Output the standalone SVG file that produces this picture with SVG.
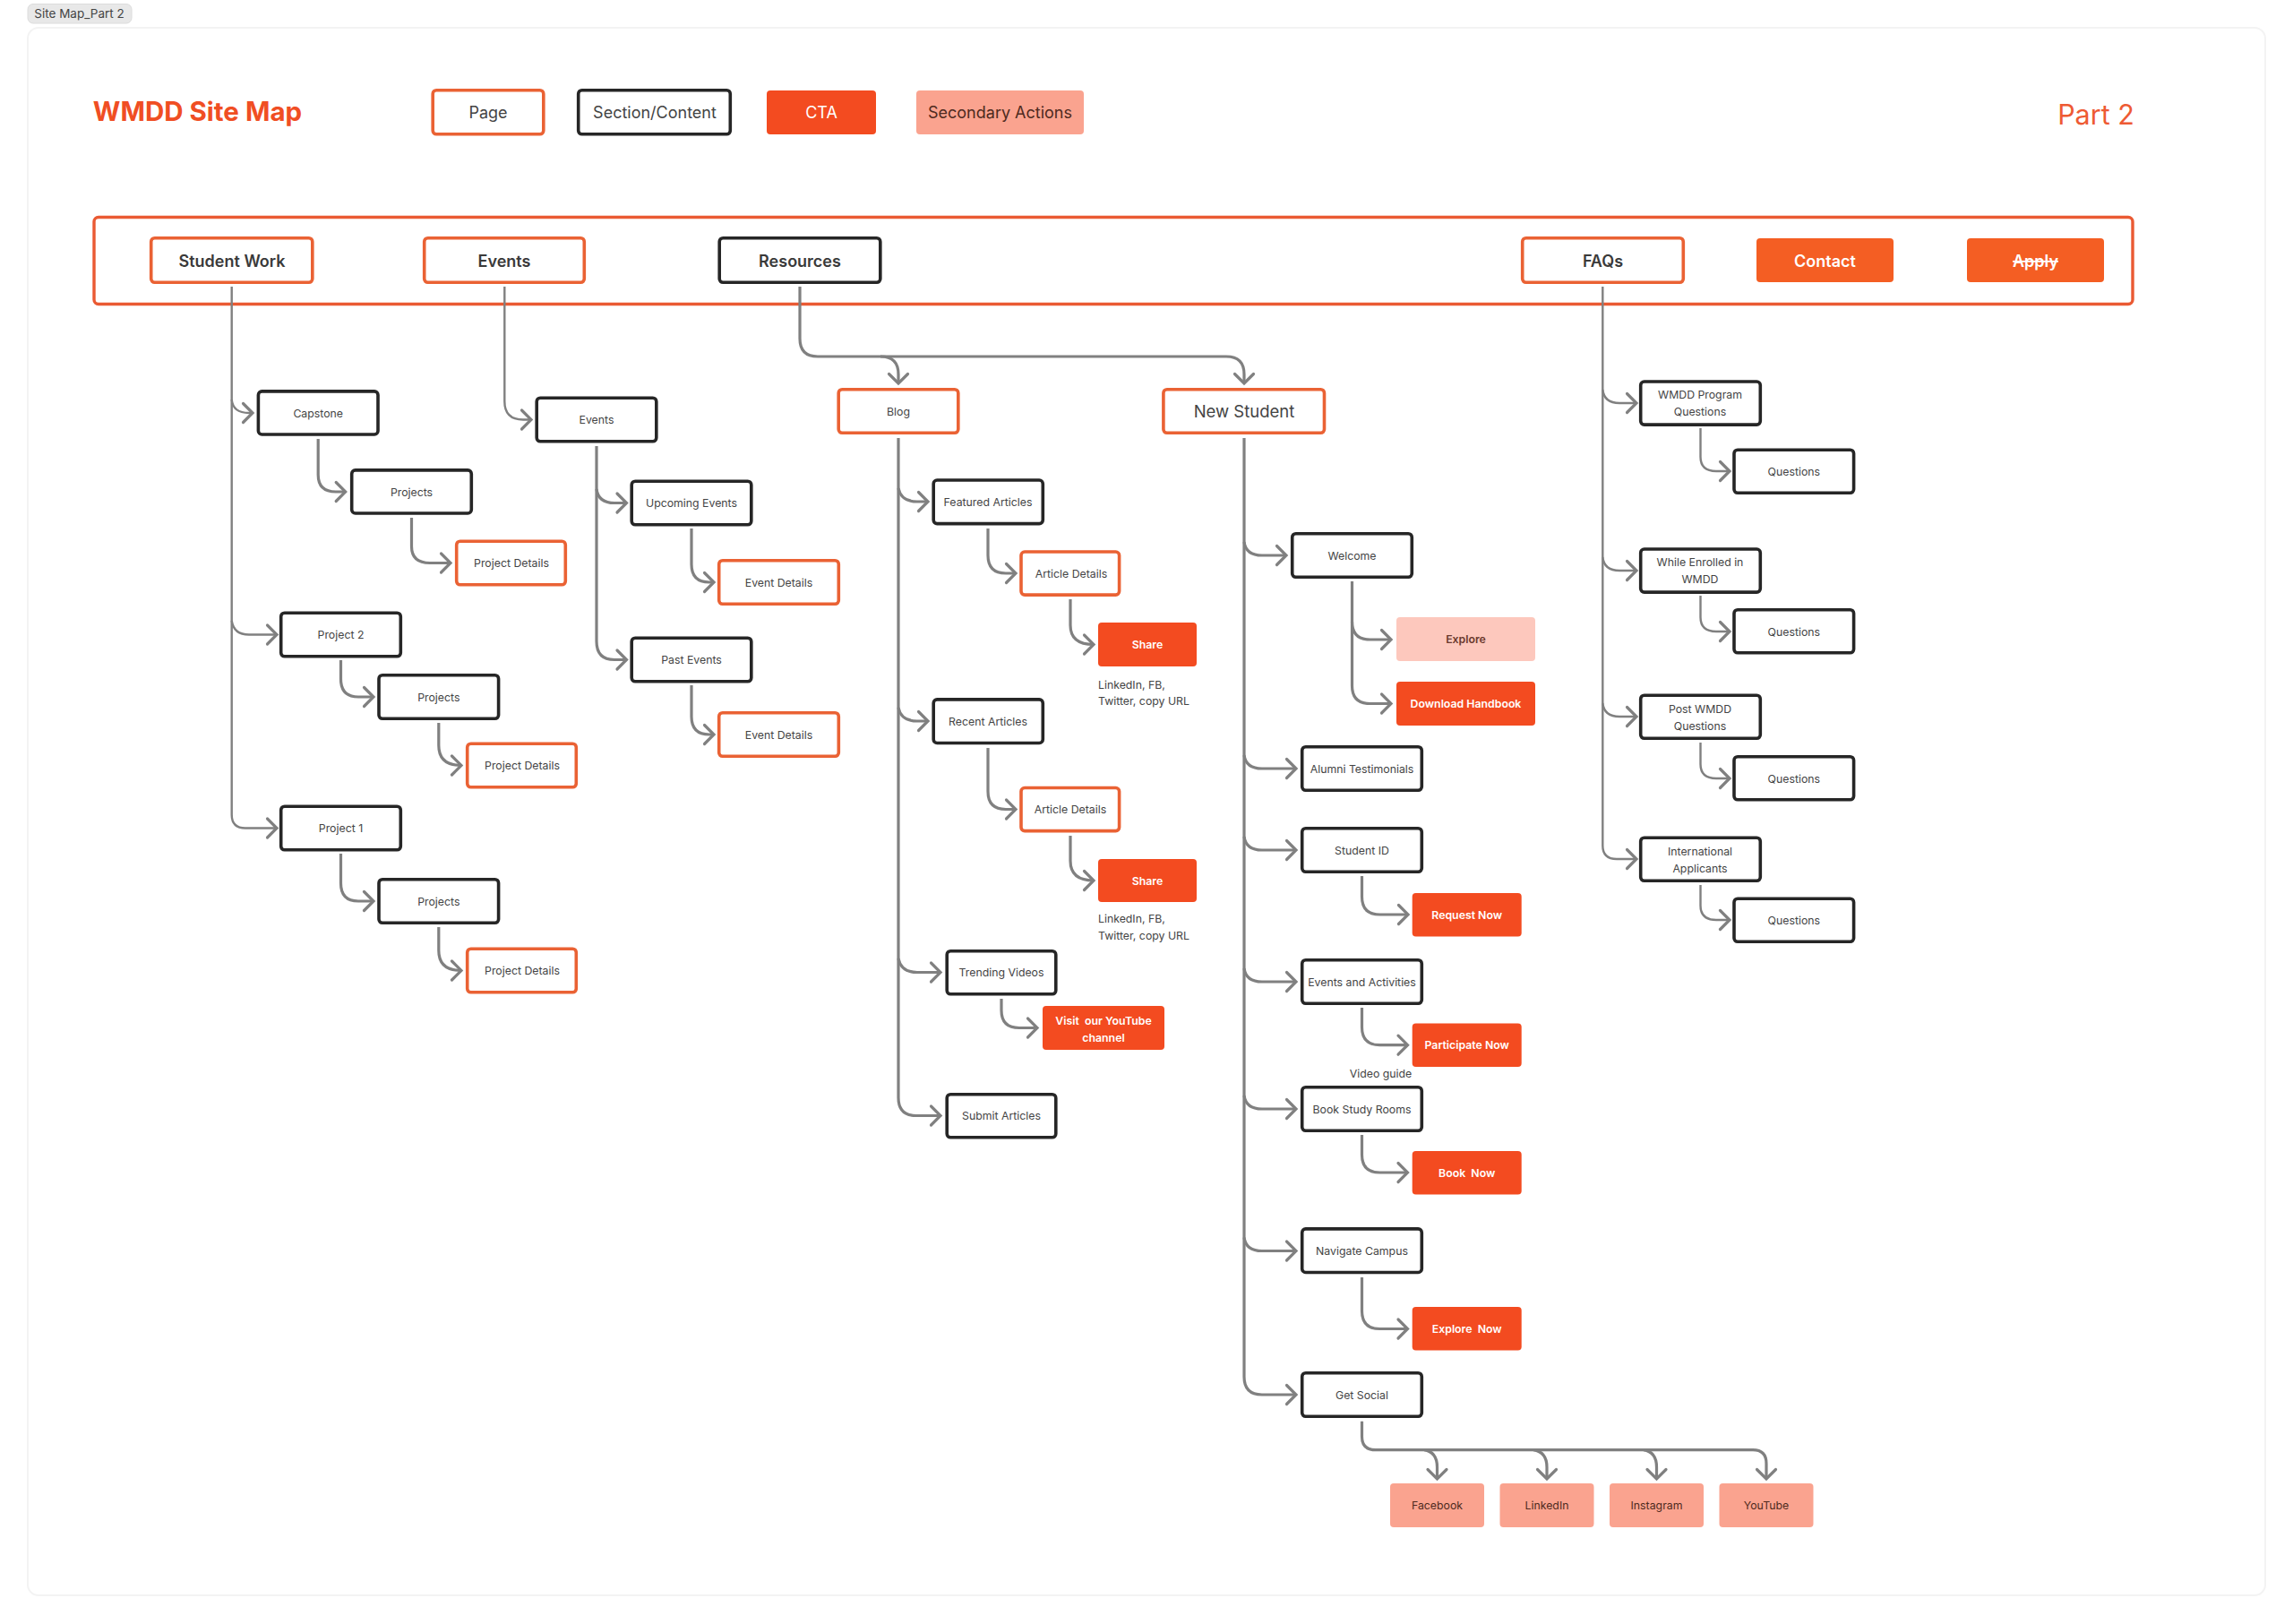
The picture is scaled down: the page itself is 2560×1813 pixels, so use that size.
<svg xmlns="http://www.w3.org/2000/svg" width="2560" height="1813" viewBox="0 0 2560 1813">
<style>
text{font-family:Inter,"Noto Sans","Liberation Sans",sans-serif;text-anchor:middle;font-size:12.300px;fill:#444;white-space:pre}
.b{fill:#fff;stroke:#262626;stroke-width:3.6}
.p{fill:#fff;stroke:#ea6234;stroke-width:3.6}
.c{fill:#f34b20;stroke:none}
.n{fill:#f45e23;stroke:none}
.s{fill:#faa38f;stroke:none}
.k{fill:#fdc8bd;stroke:none}
.w{fill:#fff;font-weight:600}
.d{fill:#4e2a20}
.h{font-size:18px;font-weight:600;fill:#3a3a3a}
.l{font-size:18px}
.con path{fill:none;stroke:#808080;stroke-width:3.2;marker-end:url(#a)}
.con .t{stroke-width:2.4}
</style>
<defs>
<marker id="a" markerUnits="userSpaceOnUse" markerWidth="30" markerHeight="30" refX="14" refY="14" orient="auto" viewBox="0 0 30 30"><path d="M3.5 3.5L14 14L3.5 24.5" fill="none" stroke="#808080" stroke-width="3.2" stroke-linecap="round"/></marker>
</defs>
<rect x="31" y="31" width="2498" height="1750" rx="12" fill="#fff" stroke="#f3f3f3" stroke-width="2"/>
<g id="tag"><rect x="31" y="4.500" width="116" height="21.500" rx="6" fill="#e8e8e8" stroke="#dcdcdc"/><text x="88.500" y="20" style="font-size:13.500px" fill="#222">Site Map_Part 2</text></g>
<g id="title"><text x="220.500" y="135" style="font-size:29.500px;font-weight:700;fill:#f04e23">WMDD Site Map</text></g>
<g id="part2"><text x="2340" y="138.500" style="font-size:30.500px;fill:#ee5a33">Part 2</text></g>
<g id="legend-page"><rect class="p" x="483.200" y="100.700" width="123.600" height="49.100" rx="4"/><text class="l" x="545" y="132">Page</text></g>
<g id="legend-section"><rect class="b" x="645.700" y="100.700" width="169.600" height="49.100" rx="4"/><text class="l" x="731" y="132">Section/Content</text></g>
<g id="legend-cta"><rect class="c" x="856" y="101" width="122" height="49" rx="4"/><text class="l" x="917" y="132" style="fill:#fff">CTA</text></g>
<g id="legend-secondary"><rect class="s" x="1023" y="101" width="187" height="49" rx="4"/><text class="l d" x="1116.500" y="132">Secondary Actions</text></g>
<g id="nav"><rect x="105" y="242.500" width="2276" height="97" rx="5" fill="none" stroke="#ea5a33" stroke-width="3.400"/></g>
<g id="nav-student-work"><rect class="p" x="168.700" y="265.700" width="180.100" height="49.600" rx="4"/><text class="h" x="259" y="297.500">Student Work</text></g>
<g id="nav-events"><rect class="p" x="473.700" y="265.700" width="178.600" height="49.600" rx="4"/><text class="h" x="563" y="297.500">Events</text></g>
<g id="nav-resources"><rect class="b" x="803.200" y="265.700" width="179.600" height="49.600" rx="4"/><text class="h" x="893" y="297.500">Resources</text></g>
<g id="nav-faqs"><rect class="p" x="1699.700" y="265.700" width="179.600" height="49.600" rx="4"/><text class="h" x="1789.500" y="297.500">FAQs</text></g>
<g id="nav-contact"><rect class="n" x="1961" y="266" width="153" height="49" rx="4"/><text class="h w" x="2037.500" y="297.500" style="fill:#fff">Contact</text></g>
<g id="nav-apply"><rect class="n" x="2196" y="266" width="153" height="49" rx="4"/><text class="h w" x="2272.500" y="297.500" style="fill:#fff;text-decoration:line-through">Apply</text></g>

<g id="connectors" class="con">
<path class="t" d="M258.700 320V909.500Q258.700 924.500 274 924.500H309"/>
<path class="t" d="M258.700 446Q260 461 278 461H282"/>
<path class="t" d="M258.700 693Q261 708.500 278 708.500H309"/>
<path d="M355.200 490V530Q355.200 549 375 549H385.700"/>
<path d="M459.500 578V610Q459.500 628.500 480 628.500H503"/>
<path d="M380.500 737V758Q380.500 778 400 778H417"/>
<path d="M489.800 807V832Q489.800 854.500 515 854.500"/>
<path d="M380.500 953V986Q380.500 1006 400 1006H417"/>
<path d="M489.800 1035V1061Q489.800 1083.500 515 1083.500"/>
<path class="t" d="M563.300 320V448Q563.300 468.500 584 468.500H593"/>
<path d="M666 498V716Q666 736.500 686 736.500H699.500"/>
<path d="M666 546Q668 561.500 686 561.500H699.500"/>
<path d="M772 590V630Q772 650 792 650H797"/>
<path d="M772 765V800Q772 820 792 820H797"/>
<path d="M893 320V378Q893 398 913 398H1369Q1389 398 1389 418V428"/>
<path d="M983 398Q1003 398 1003 418V428"/>
<path d="M1003 489V1225.500Q1003 1245.500 1023 1245.500H1050"/>
<path d="M1003 545Q1006 560 1024 560H1036"/>
<path d="M1003 790Q1006 805 1024 805H1036"/>
<path d="M1003 1070Q1006 1085.500 1024 1085.500H1050"/>
<path d="M1103 590V620Q1103 640 1123 640H1134"/>
<path d="M1195 669V698Q1195 719.500 1221 719.500"/>
<path d="M1103 835V883.500Q1103 903.500 1123 903.500H1134"/>
<path d="M1195 933V961Q1195 983 1221 983"/>
<path d="M1118 1115V1128Q1118 1147.500 1138 1147.500H1158"/>
<path d="M1389 489V1537Q1389 1557 1409 1557H1447"/>
<path d="M1389 605Q1391 620 1409 620H1436"/>
<path d="M1389 843Q1391 858 1409 858H1447"/>
<path d="M1389 934Q1391 949 1409 949H1447"/>
<path d="M1389 1081Q1391 1096 1409 1096H1447"/>
<path d="M1389 1223Q1391 1238 1409 1238H1447"/>
<path d="M1389 1381.500Q1391 1396.500 1409 1396.500H1447"/>
<path d="M1509.500 649V765.500Q1509.500 785.500 1529.500 785.500H1553"/>
<path d="M1509.500 694Q1509.500 714 1529.500 714H1553"/>
<path d="M1520.500 978V1001Q1520.500 1021 1540.500 1021H1572"/>
<path d="M1520.500 1125V1146.700Q1520.500 1166.700 1540.500 1166.700H1571.500"/>
<path d="M1520.500 1267V1289Q1520.500 1309 1540.500 1309H1571.500"/>
<path d="M1520.500 1426V1463.500Q1520.500 1483.500 1540.500 1483.500H1571.500"/>
<path d="M1520.500 1586.700V1603.700Q1520.500 1618.700 1536 1618.700H1957Q1972 1618.700 1972 1634V1651"/>
<path d="M1590 1618.700Q1604.500 1621 1604.500 1638V1651"/>
<path d="M1712 1618.700Q1727 1621 1727 1638V1651"/>
<path d="M1835 1618.700Q1849.500 1621 1849.500 1638V1651"/>
<path class="t" d="M1789.300 320V944Q1789.300 959 1805 959H1827"/>
<path class="t" d="M1789.300 435Q1791 450 1808 450H1827"/>
<path class="t" d="M1789.300 622Q1791 637 1808 637H1827"/>
<path class="t" d="M1789.300 785Q1791 800 1808 800H1827"/>
<path class="t" d="M1898.500 478V510Q1898.500 526 1916 526H1931"/>
<path class="t" d="M1898.500 665V689Q1898.500 705 1916 705H1931"/>
<path class="t" d="M1898.500 829V853Q1898.500 869 1916 869H1931"/>
<path class="t" d="M1898.500 988V1011Q1898.500 1027 1916 1027H1931"/>
</g>

<g id="capstone"><rect class="b" x="288.400" y="436.900" width="133.600" height="48.100" rx="4"/><text x="355.200" y="465.500">Capstone</text></g>
<g id="projects-a"><rect class="b" x="392.700" y="524.900" width="133.600" height="48.100" rx="4"/><text x="459.500" y="553.500">Projects</text></g>
<g id="project-details-a"><rect class="p" x="509.700" y="604.200" width="121.600" height="48.600" rx="4"/><text x="571" y="633">Project Details</text></g>
<g id="project-2"><rect class="b" x="313.700" y="684.200" width="133.600" height="48.600" rx="4"/><text x="380.500" y="713">Project 2</text></g>
<g id="projects-b"><rect class="b" x="423" y="753.700" width="133.600" height="48.600" rx="4"/><text x="489.800" y="782.500">Projects</text></g>
<g id="project-details-b"><rect class="p" x="521.700" y="830.200" width="121.600" height="48.600" rx="4"/><text x="583" y="859">Project Details</text></g>
<g id="project-1"><rect class="b" x="313.700" y="900.200" width="133.600" height="48.600" rx="4"/><text x="380.500" y="929">Project 1</text></g>
<g id="projects-c"><rect class="b" x="423" y="981.700" width="133.600" height="48.600" rx="4"/><text x="489.800" y="1010.500">Projects</text></g>
<g id="project-details-c"><rect class="p" x="521.700" y="1059.200" width="121.600" height="48.600" rx="4"/><text x="583" y="1088">Project Details</text></g>

<g id="events"><rect class="b" x="599.200" y="444.200" width="133.600" height="48.600" rx="4"/><text x="666" y="473">Events</text></g>
<g id="upcoming-events"><rect class="b" x="705.200" y="537.200" width="133.600" height="48.600" rx="4"/><text x="772" y="566">Upcoming Events</text></g>
<g id="event-details-a"><rect class="p" x="802.700" y="625.700" width="133.600" height="48.600" rx="4"/><text x="869.500" y="654.500">Event Details</text></g>
<g id="past-events"><rect class="b" x="705.200" y="712.200" width="133.600" height="48.600" rx="4"/><text x="772" y="741">Past Events</text></g>
<g id="event-details-b"><rect class="p" x="802.700" y="795.700" width="133.600" height="48.600" rx="4"/><text x="869.500" y="824.500">Event Details</text></g>

<g id="blog"><rect class="p" x="936.200" y="434.700" width="133.600" height="48.600" rx="4"/><text x="1003" y="463.500">Blog</text></g>
<g id="featured-articles"><rect class="b" x="1042.200" y="536" width="122.100" height="48.600" rx="4"/><text x="1103" y="564.500">Featured Articles</text></g>
<g id="article-details-a"><rect class="p" x="1140" y="616" width="109.600" height="48.100" rx="4"/><text x="1196" y="644.500">Article Details</text></g>
<g id="share-a"><rect class="c" x="1226" y="695" width="110" height="49" rx="4"/><text class="w" x="1281" y="724">Share</text></g>
<g id="share-a-note"><text x="1226" y="768.500" style="text-anchor:start">LinkedIn, FB,</text><text x="1226" y="787" style="text-anchor:start">Twitter, copy URL</text></g>
<g id="recent-articles"><rect class="b" x="1042.200" y="780.900" width="122.100" height="48.600" rx="4"/><text x="1103" y="809.500">Recent Articles</text></g>
<g id="article-details-b"><rect class="p" x="1140" y="879.500" width="109.600" height="48.100" rx="4"/><text x="1195" y="908">Article Details</text></g>
<g id="share-b"><rect class="c" x="1226" y="959" width="110" height="48" rx="4"/><text class="w" x="1281" y="987.500">Share</text></g>
<g id="share-b-note"><text x="1226" y="1030" style="text-anchor:start">LinkedIn, FB,</text><text x="1226" y="1049" style="text-anchor:start">Twitter, copy URL</text></g>
<g id="trending-videos"><rect class="b" x="1057.200" y="1061.700" width="121.600" height="48.100" rx="4"/><text x="1118" y="1090">Trending Videos</text></g>
<g id="youtube-channel"><rect class="c" x="1164" y="1123" width="136" height="49" rx="4"/><text class="w" x="1232" y="1144">Visit  our YouTube</text><text class="w" x="1232" y="1162.500">channel</text></g>
<g id="submit-articles"><rect class="b" x="1057.200" y="1221.700" width="121.600" height="48.100" rx="4"/><text x="1118" y="1250">Submit Articles</text></g>

<g id="new-student"><rect class="p" x="1298.900" y="434.700" width="179.600" height="48.600" rx="4"/><text x="1389" y="466" style="font-size:18.500px">New Student</text></g>
<g id="welcome"><rect class="b" x="1442.700" y="595.700" width="133.600" height="48.600" rx="4"/><text x="1509.500" y="624.500">Welcome</text></g>
<g id="explore"><rect class="k" x="1559" y="689" width="155" height="49" rx="4"/><text x="1636.500" y="718" style="font-weight:600;fill:#6b3a2e">Explore</text></g>
<g id="download-handbook"><rect class="c" x="1559" y="761" width="155" height="49" rx="4"/><text class="w" x="1636.500" y="790">Download Handbook</text></g>
<g id="alumni"><rect class="b" x="1453.700" y="833.700" width="133.600" height="48.600" rx="4"/><text x="1520.500" y="862.500">Alumni Testimonials</text></g>
<g id="student-id"><rect class="b" x="1453.700" y="924.700" width="133.600" height="48.600" rx="4"/><text x="1520.500" y="953.500">Student ID</text></g>
<g id="request-now"><rect class="c" x="1576.700" y="997" width="122" height="48.500" rx="4"/><text class="w" x="1637.700" y="1025.500">Request Now</text></g>
<g id="events-activities"><rect class="b" x="1453.700" y="1071.700" width="133.600" height="48.600" rx="4"/><text x="1520.500" y="1100.500">Events and Activities</text></g>
<g id="participate-now"><rect class="c" x="1576.700" y="1142.500" width="122" height="48.500" rx="4"/><text class="w" x="1637.700" y="1171">Participate Now</text></g>
<g id="video-guide"><text x="1541.500" y="1202.500">Video guide</text></g>
<g id="book-study"><rect class="b" x="1453.700" y="1213.700" width="133.600" height="48.600" rx="4"/><text x="1520.500" y="1242.500">Book Study Rooms</text></g>
<g id="book-now"><rect class="c" x="1576.700" y="1285" width="122" height="48.500" rx="4"/><text class="w" x="1637.700" y="1313.500">Book  Now</text></g>
<g id="navigate-campus"><rect class="b" x="1453.700" y="1371.900" width="133.600" height="48.600" rx="4"/><text x="1520.500" y="1401">Navigate Campus</text></g>
<g id="explore-now"><rect class="c" x="1576.700" y="1459" width="122" height="48.500" rx="4"/><text class="w" x="1637.700" y="1487.500">Explore  Now</text></g>
<g id="get-social"><rect class="b" x="1453.700" y="1532.700" width="133.600" height="48.600" rx="4"/><text x="1520.500" y="1561.500">Get Social</text></g>
<g id="facebook"><rect class="s" x="1552" y="1656" width="105" height="49" rx="4"/><text class="d" x="1604.500" y="1684.500">Facebook</text></g>
<g id="linkedin"><rect class="s" x="1674.500" y="1656" width="105" height="49" rx="4"/><text class="d" x="1727" y="1684.500">LinkedIn</text></g>
<g id="instagram"><rect class="s" x="1797" y="1656" width="105" height="49" rx="4"/><text class="d" x="1849.500" y="1684.500">Instagram</text></g>
<g id="youtube"><rect class="s" x="1919.500" y="1656" width="105" height="49" rx="4"/><text class="d" x="1972" y="1684.500">YouTube</text></g>

<g id="wmdd-questions"><rect class="b" x="1831.700" y="426" width="133.600" height="48.100" rx="4"/><text x="1898" y="445">WMDD Program</text><text x="1898" y="463.500">Questions</text></g>
<g id="questions-a"><rect class="b" x="1936" y="502.200" width="133.600" height="48.100" rx="4"/><text x="2002.800" y="530.500">Questions</text></g>
<g id="while-enrolled"><rect class="b" x="1831.700" y="613" width="133.600" height="48.100" rx="4"/><text x="1898" y="632">While Enrolled in</text><text x="1898" y="650.500">WMDD</text></g>
<g id="questions-b"><rect class="b" x="1936" y="680.700" width="133.600" height="48.100" rx="4"/><text x="2002.800" y="709.500">Questions</text></g>
<g id="post-wmdd"><rect class="b" x="1831.700" y="776.200" width="133.600" height="48.100" rx="4"/><text x="1898" y="796">Post WMDD</text><text x="1898" y="814.500">Questions</text></g>
<g id="questions-c"><rect class="b" x="1936" y="844.700" width="133.600" height="48.100" rx="4"/><text x="2002.800" y="873.500">Questions</text></g>
<g id="international"><rect class="b" x="1831.700" y="935.200" width="133.600" height="48.100" rx="4"/><text x="1898" y="955">International</text><text x="1898" y="973.500">Applicants</text></g>
<g id="questions-d"><rect class="b" x="1936" y="1003.200" width="133.600" height="48.100" rx="4"/><text x="2002.800" y="1032">Questions</text></g>
</svg>
